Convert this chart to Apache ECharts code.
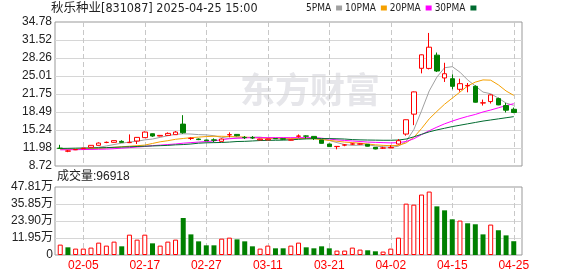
<!DOCTYPE html>
<html><head><meta charset="utf-8">
<script src="https://cdn.jsdelivr.net/npm/echarts/dist/echarts.min.js"></script>
<style>html,body{margin:0;padding:0;background:#fff}#c{width:578px;height:276px}</style>
</head><body><div id="c"></div>
<script>
const titleText = '秋乐种业[831087] 2025-04-25 15:00';
const volLabel = '成交量';
const lastVolume = 96918;
const dates = ['01-23','01-24','01-27','02-05','02-06','02-07','02-10','02-11','02-12','02-13','02-14','02-17','02-18','02-19','02-20','02-21','02-24','02-25','02-26','02-27','02-28','03-03','03-04','03-05','03-06','03-07','03-10','03-11','03-12','03-13','03-14','03-17','03-18','03-19','03-20','03-21','03-24','03-25','03-26','03-27','03-28','03-31','04-01','04-02','04-03','04-07','04-08','04-09','04-10','04-11','04-14','04-15','04-16','04-17','04-18','04-21','04-22','04-23','04-24','04-25'];
const shownDates = ['02-05','02-17','02-27','03-11','03-21','04-02','04-15','04-25'];
const priceTicks = ['8.72','11.98','15.24','18.49','21.75','25.01','28.26','31.52','34.78'];
const volTicks = ['0','11.95万','23.90万','35.85万','47.81万'];
const priceMin = 8.72, priceMax = 34.78, volMax = 47.81;
const open  = [11.95,11.40,11.65,11.85,12.10,12.46,12.98,13.00,13.18,12.95,13.24,13.85,14.56,14.14,14.26,14.39,16.30,13.70,13.60,13.42,13.45,13.18,14.35,14.44,13.90,13.85,13.45,13.45,13.70,13.65,13.40,14.10,14.16,14.08,13.42,12.70,12.23,12.50,12.68,12.68,12.64,12.10,11.95,12.00,12.70,14.50,18.10,26.40,26.38,28.78,24.65,24.52,22.60,23.22,23.14,20.12,20.38,20.92,19.66,18.99];
const close = [11.90,11.45,11.70,11.95,12.46,12.87,13.00,13.31,13.00,13.00,13.90,14.86,14.14,14.26,14.62,14.86,14.74,13.74,13.50,13.30,13.38,13.60,14.40,14.20,13.85,13.80,13.60,13.60,13.65,13.58,13.45,14.15,14.12,13.72,12.82,12.23,12.27,12.54,12.72,12.72,12.30,11.80,11.99,12.10,13.30,17.09,22.13,28.84,30.22,25.91,25.42,23.14,23.62,23.30,20.26,20.16,21.59,19.78,18.82,18.40];
const low   = [11.85,11.22,11.60,11.80,12.05,12.40,12.85,12.95,12.95,12.87,12.70,13.80,13.99,14.10,14.20,14.35,14.57,13.42,13.40,13.24,13.06,13.15,13.90,14.10,13.60,13.60,13.40,13.40,13.60,13.50,13.35,13.85,13.67,13.42,12.80,12.20,11.74,12.30,12.50,12.55,12.25,11.75,11.80,11.98,12.60,14.21,16.11,25.48,26.20,25.73,23.93,22.60,22.18,22.06,20.20,19.66,20.02,19.72,18.40,18.28];
const high  = [12.55,11.62,11.75,12.00,12.50,13.00,13.15,13.35,13.38,14.44,13.95,14.98,14.60,14.30,14.80,15.04,17.92,13.90,13.70,13.50,13.72,13.72,14.80,14.50,14.14,14.14,13.65,13.65,13.75,13.70,13.50,14.44,14.26,14.10,13.45,12.75,12.30,12.70,12.90,12.85,12.70,12.15,12.20,12.50,13.60,17.12,22.20,28.90,32.80,29.26,27.40,25.29,24.52,23.74,23.32,20.74,21.70,21.10,20.14,19.30];
const volume = [7.3,5.4,4.5,4.5,5.2,8.7,6.6,9.4,6.1,14.3,10.8,14.3,8.2,6.6,9.4,10.8,26.0,14.5,9.6,6.8,6.8,11.5,12.2,11.0,9.6,6.1,4.5,6.6,4.7,4.7,6.6,8.7,5.4,4.7,6.1,4.7,3.1,3.1,5.2,3.8,3.3,2.6,2.4,4.5,12.2,36.1,35.4,42.5,44.6,34.2,31.4,25.1,24.2,22.3,21.6,14.5,21.4,17.4,13.8,9.69];
const volUp = [1,0,1,1,1,1,1,1,0,1,1,1,0,1,1,1,0,0,0,0,0,1,1,0,0,0,1,1,0,0,1,1,0,0,0,0,1,1,1,1,0,0,1,1,1,1,1,1,1,0,0,0,1,0,0,0,1,0,0,0];
const ma5  = [11.85,11.75,11.70,11.75,11.85,12.10,12.35,12.60,12.85,13.05,13.20,13.45,13.60,13.90,14.20,14.45,14.55,14.50,14.40,14.35,14.20,13.90,13.70,13.80,13.85,13.95,13.95,13.75,13.65,13.60,13.55,13.65,13.75,13.80,13.70,13.35,12.95,12.60,12.45,12.50,12.55,12.35,12.20,12.10,12.30,13.20,15.30,18.70,22.30,24.80,26.50,26.70,25.70,24.30,23.20,22.10,21.80,21.00,20.10,19.70];
const ma10 = [11.75,11.75,11.75,11.80,11.85,11.90,12.00,12.10,12.20,12.30,12.40,12.50,12.80,13.10,13.30,13.55,13.70,13.85,13.95,14.05,14.10,14.10,14.05,14.00,13.95,13.85,13.80,13.75,13.75,13.75,13.70,13.70,13.70,13.65,13.50,13.35,13.20,13.05,12.95,12.85,12.70,12.55,12.45,12.40,12.45,12.90,13.90,15.50,17.25,18.60,19.90,21.00,22.10,23.20,23.90,24.30,24.25,23.40,22.30,21.50];
const ma20 = [11.65,11.65,11.68,11.70,11.72,11.75,11.78,11.85,11.95,12.05,12.15,12.25,12.40,12.50,12.60,12.70,12.85,12.95,13.05,13.15,13.25,13.50,13.65,13.75,13.80,13.85,13.85,13.85,13.85,13.85,13.85,13.85,13.85,13.85,13.75,13.60,13.45,13.35,13.25,13.15,13.05,13.00,12.95,12.90,12.95,13.15,13.65,14.40,15.10,15.75,16.35,16.85,17.30,17.70,18.05,18.50,18.85,19.25,19.65,20.00];
const ma30 = [11.90,11.92,11.95,11.98,12.00,12.02,12.05,12.10,12.15,12.20,12.25,12.30,12.35,12.40,12.45,12.55,12.60,12.70,12.85,12.92,12.95,12.98,13.05,13.15,13.18,13.25,13.33,13.36,13.38,13.40,13.45,13.55,13.62,13.66,13.68,13.68,13.65,13.60,13.50,13.45,13.42,13.40,13.38,13.38,13.42,13.60,14.00,14.45,14.90,15.25,15.55,15.85,16.10,16.35,16.60,16.85,17.05,17.25,17.45,17.65];
const maNames = ['5PMA','10PMA','20PMA','30PMA'];
const maColors = ['#a0a0a0','#f5a000','#ff00ff','#006b30'];
const maData = [ma5, ma10, ma20, ma30];

const NARROW = "'Liberation Sans Narrow','DejaVu Sans Condensed','Noto Sans CJK SC',sans-serif";
const SANS = "'Liberation Sans','Noto Sans CJK SC',sans-serif";
const UP = '#ff0000', DOWN = '#008000';

const candleData = dates.map((d, i) => [open[i], close[i], low[i], high[i]]);
const volData = volume.map((v, i) => ({
  value: v,
  itemStyle: volUp[i] ? {color: '#ffffff', borderColor: UP, borderWidth: 1} : {color: DOWN, borderColor: DOWN, borderWidth: 0}
}));
const showIdx = (i) => shownDates.indexOf(dates[i]) >= 0;

const chart = echarts.init(document.getElementById('c'), null, {renderer: 'canvas'});
const dataAxisCommon = {
  type: 'category', data: dates, boundaryGap: true,
  axisLine: {show: false}, axisTick: {show: false},
  splitLine: {show: true, alignWithLabel: true, interval: (i) => showIdx(i), lineStyle: {color: '#c8c8c8', type: [5, 3], width: 1}}
};
chart.setOption({
  animation: false,
  title: {text: titleText, left: 51, top: 2, padding: 0, textStyle: {fontSize: 12.5, fontWeight: 'normal', fontFamily: NARROW, color: '#222'}},
  legend: {data: maNames, left: 306, top: 3, align: 'right', icon: 'rect', itemWidth: 6, itemHeight: 5, itemGap: 3, selectedMode: false, padding: 0,
    textStyle: {fontSize: 10, fontFamily: NARROW, color: '#222'}},
  graphic: [
    {type: 'text', left: 240, top: 72, z: 0, silent: true, style: {text: '东方财富', fontSize: 35, fontWeight: 'bold', fontFamily: "'Noto Sans CJK SC',sans-serif", fill: '#e6e6ea'}},
    {type: 'text', left: 57, top: 171, z: 5, silent: true, style: {text: volLabel + ':' + lastVolume, fontSize: 12, fontFamily: SANS, fill: '#222'}}
  ],
  grid: [
    {left: 55, top: 22, width: 467, height: 144, show: true, borderColor: '#999', borderWidth: 1, backgroundColor: 'transparent'},
    {left: 55, top: 187, width: 467, height: 68, show: true, borderColor: '#999', borderWidth: 1, backgroundColor: 'transparent'},
    {left: 56.4, top: 22, width: 461.2, height: 144, show: false},
    {left: 56.4, top: 187, width: 461.2, height: 68, show: false}
  ],
  xAxis: [
    {gridIndex: 0, type: 'value', min: 0, max: 1, show: false},
    {gridIndex: 1, type: 'value', min: 0, max: 1, show: false},
    Object.assign({gridIndex: 2, axisLabel: {show: false}}, dataAxisCommon),
    Object.assign({gridIndex: 3, axisLabel: {show: true, interval: (i) => showIdx(i), color: UP, fontSize: 12, fontFamily: SANS, margin: 5}}, dataAxisCommon)
  ],
  yAxis: [
    {gridIndex: 0, type: 'value', min: 0, max: priceTicks.length - 1, interval: 1,
      axisLine: {show: false}, axisTick: {show: false},
      axisLabel: {formatter: (v) => priceTicks[Math.round(v)], color: '#222', fontSize: 12, fontFamily: SANS, margin: 3},
      splitLine: {show: true, showMinLine: false, showMaxLine: false, lineStyle: {color: '#d6d6d6', width: 1}}},
    {gridIndex: 1, type: 'value', min: 0, max: volTicks.length - 1, interval: 1,
      axisLine: {show: false}, axisTick: {show: false},
      axisLabel: {formatter: (v) => volTicks[Math.round(v)], color: '#222', fontSize: 12, fontFamily: SANS, margin: 2},
      splitLine: {show: true, showMinLine: false, showMaxLine: false, lineStyle: {color: '#d6d6d6', width: 1}}},
    {gridIndex: 2, type: 'value', min: priceMin, max: priceMax, show: false},
    {gridIndex: 3, type: 'value', min: 0, max: volMax, show: false}
  ],
  series: [
    {type: 'candlestick', name: 'K', xAxisIndex: 2, yAxisIndex: 2, data: candleData, barWidth: 5, z: 4, silent: true,
      itemStyle: {color: '#ffffff', color0: DOWN, borderColor: UP, borderColor0: DOWN, borderColorDoji: UP, borderWidth: 1}},
    ...maData.map((arr, k) => ({
      type: 'line', name: maNames[k], xAxisIndex: 2, yAxisIndex: 2, data: arr, showSymbol: false, symbol: 'none', z: 3, silent: true,
      color: maColors[k], itemStyle: {color: maColors[k]}, lineStyle: {color: maColors[k], width: 1}
    })),
    {type: 'bar', name: 'VOL', xAxisIndex: 3, yAxisIndex: 3, data: volData, barWidth: 5, z: 3, silent: true}
  ]
});
</script>
</body></html>
